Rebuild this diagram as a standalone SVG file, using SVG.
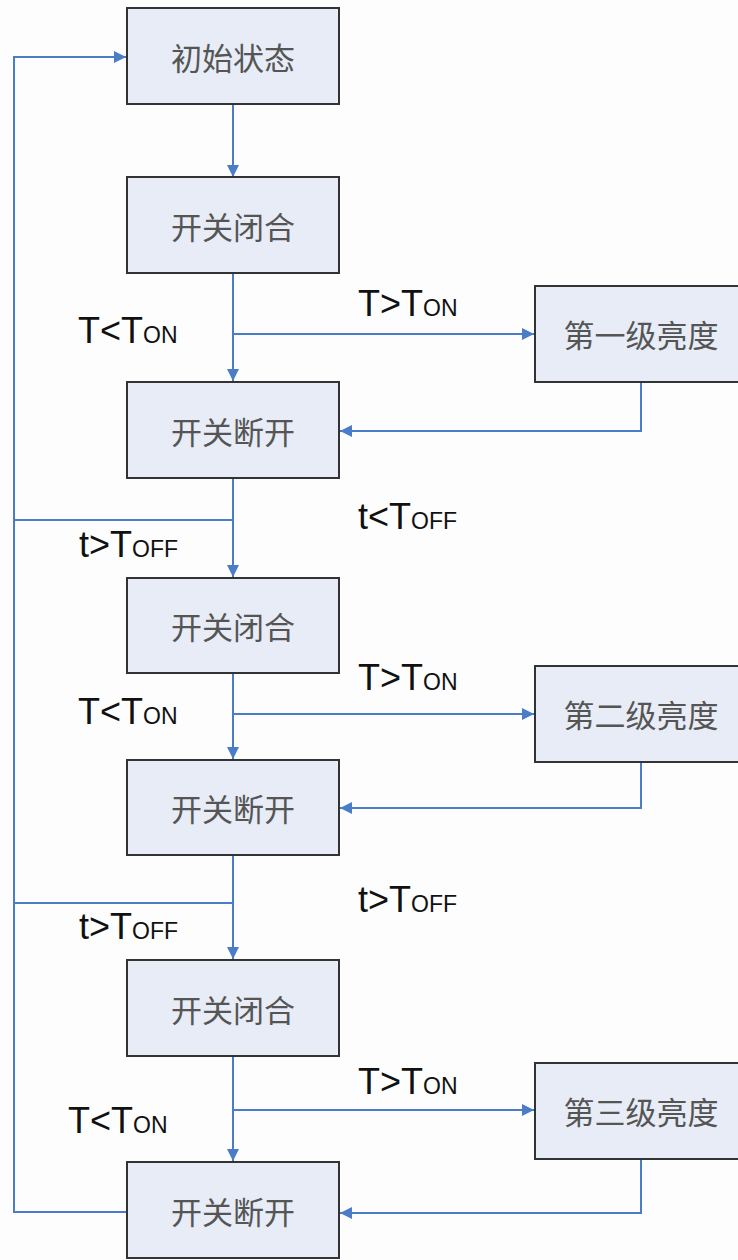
<svg xmlns="http://www.w3.org/2000/svg" width="738" height="1260" viewBox="0 0 738 1260">
<defs>
<marker id="arr" markerUnits="userSpaceOnUse" markerWidth="14" markerHeight="14" refX="12" refY="7" orient="auto">
<path d="M0,1 L12,7 L0,13 Z" fill="#4a7cc8"/>
</marker>
<style>
.box{fill:#e7ecf6;stroke:#333;stroke-width:2}
.bt{font-family:"Noto Sans CJK SC","Noto Sans",sans-serif;font-size:31px;fill:#555;text-anchor:middle;dominant-baseline:central}
.ln{fill:none;stroke:#4a7cc8;stroke-width:2}
.lb{font-family:"Liberation Sans",Arial,sans-serif;font-size:36px;fill:#111}
.sub{font-size:23px}
</style>
</defs>
<rect width="738" height="1260" fill="#fdfdfd"/>
<g id="connectors">
<polyline class="ln" points="127,1212 14,1212 14,57 126,57" marker-end="url(#arr)"/>
<line class="ln" x1="233" y1="104" x2="233" y2="177" marker-end="url(#arr)"/>
<line class="ln" x1="233" y1="273" x2="233" y2="381" marker-end="url(#arr)"/>
<line class="ln" x1="233" y1="334" x2="534" y2="334" marker-end="url(#arr)"/>
<polyline class="ln" points="641,382 641,431 340,431" marker-end="url(#arr)"/>
<line class="ln" x1="233" y1="478" x2="233" y2="577" marker-end="url(#arr)"/>
<line class="ln" x1="14" y1="520" x2="233" y2="520"/>
<line class="ln" x1="233" y1="673" x2="233" y2="759" marker-end="url(#arr)"/>
<line class="ln" x1="233" y1="714" x2="534" y2="714" marker-end="url(#arr)"/>
<polyline class="ln" points="641,762 641,808 340,808" marker-end="url(#arr)"/>
<line class="ln" x1="233" y1="855" x2="233" y2="959" marker-end="url(#arr)"/>
<line class="ln" x1="14" y1="903" x2="233" y2="903"/>
<line class="ln" x1="233" y1="1056" x2="233" y2="1161" marker-end="url(#arr)"/>
<line class="ln" x1="233" y1="1110" x2="534" y2="1110" marker-end="url(#arr)"/>
<polyline class="ln" points="641,1159 641,1213 340,1213" marker-end="url(#arr)"/>
</g>
<g id="labels">
<text class="lb" x="358" y="316">T&gt;T<tspan class="sub">ON</tspan></text>
<text class="lb" x="78" y="343">T&lt;T<tspan class="sub">ON</tspan></text>
<text class="lb" x="358" y="529">t&lt;T<tspan class="sub">OFF</tspan></text>
<text class="lb" x="79" y="557">t&gt;T<tspan class="sub">OFF</tspan></text>
<text class="lb" x="358" y="690">T&gt;T<tspan class="sub">ON</tspan></text>
<text class="lb" x="78" y="724">T&lt;T<tspan class="sub">ON</tspan></text>
<text class="lb" x="358" y="912">t&gt;T<tspan class="sub">OFF</tspan></text>
<text class="lb" x="79" y="939">t&gt;T<tspan class="sub">OFF</tspan></text>
<text class="lb" x="358" y="1094">T&gt;T<tspan class="sub">ON</tspan></text>
<text class="lb" x="68" y="1133">T&lt;T<tspan class="sub">ON</tspan></text>
</g>
<g id="n1"><rect class="box" x="127" y="8" width="212" height="96"/><text class="bt" x="233" y="56">初始状态</text></g>
<g id="n2"><rect class="box" x="127" y="177" width="212" height="96"/><text class="bt" x="233" y="225">开关闭合</text></g>
<g id="n3"><rect class="box" x="127" y="382" width="212" height="96"/><text class="bt" x="233" y="430">开关断开</text></g>
<g id="n4"><rect class="box" x="127" y="578" width="212" height="95"/><text class="bt" x="233" y="625">开关闭合</text></g>
<g id="n5"><rect class="box" x="127" y="760" width="212" height="95"/><text class="bt" x="233" y="807">开关断开</text></g>
<g id="n6"><rect class="box" x="127" y="960" width="212" height="96"/><text class="bt" x="233" y="1008">开关闭合</text></g>
<g id="n7"><rect class="box" x="127" y="1162" width="212" height="96"/><text class="bt" x="233" y="1210">开关断开</text></g>
<g id="r1"><rect class="box" x="535" y="286" width="210" height="96"/><text class="bt" x="641" y="333">第一级亮度</text></g>
<g id="r2"><rect class="box" x="535" y="666" width="210" height="96"/><text class="bt" x="641" y="713">第二级亮度</text></g>
<g id="r3"><rect class="box" x="535" y="1063" width="210" height="96"/><text class="bt" x="641" y="1110">第三级亮度</text></g>
</svg>
